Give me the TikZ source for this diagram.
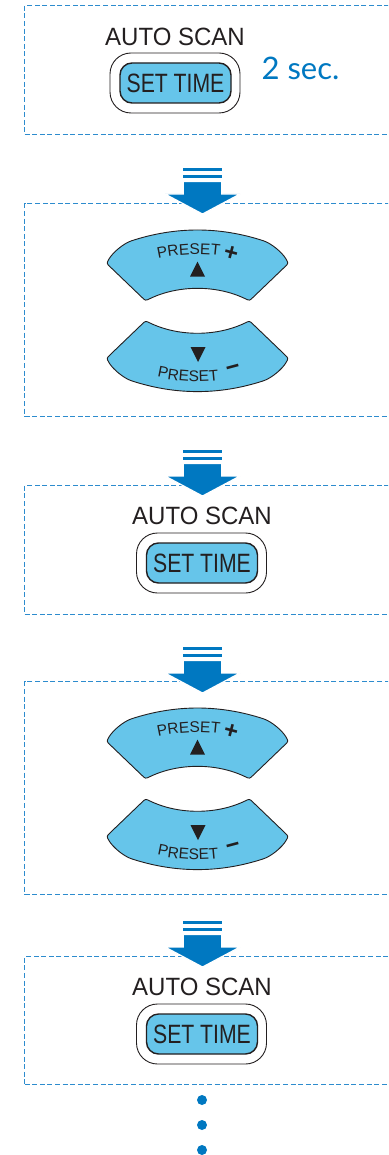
\documentclass[tikz,border=0pt]{standalone}
\usepackage{fontspec}
\setmainfont{Liberation Sans}
\newfontfamily\autofont[FakeStretch=0.96]{Liberation Sans}
\newfontfamily\settimefont[FakeStretch=0.8]{Liberation Sans}
\newfontfamily\secfont{Lato}
\definecolor{arrowblue}{RGB}{0,120,193}
\definecolor{btnblue}{RGB}{102,197,234}
\definecolor{dashblue}{RGB}{45,140,206}
\definecolor{ink}{RGB}{35,31,32}
\tikzset{
  dashbox/.style={draw=dashblue, line width=1.2pt, dash pattern=on 5pt off 2.6pt, anchor=north west, inner sep=0pt},
  txt/.style={inner sep=0pt, text=ink},
  autolabel/.style={txt, font=\autofont\fontsize{25}{30}\selectfont},
  outerbtn/.style={draw=ink, fill=white, line width=0.9pt, rounded corners=21pt, minimum width=130pt, minimum height=60pt, inner sep=0pt},
  innerbtn/.style={draw=ink, fill=btnblue, line width=1.4pt, rounded corners=12pt, minimum width=111pt, minimum height=40pt, inner sep=0pt, text=ink, font=\settimefont\fontsize{26.5}{30}\selectfont},
  dotnode/.style={circle, fill=arrowblue, inner sep=0pt, minimum size=10pt},
  signlabel/.style={txt, font=\fontsize{24}{26}\selectfont\bfseries},
  presetchar/.style={txt, anchor=base, font=\fontsize{15.5}{18}\selectfont},
  flowarrow/.pic={
    \fill[arrowblue] (-19.2,0) rectangle (19.2,3);
    \fill[arrowblue] (-19.2,7) rectangle (19.2,10);
    \filldraw[fill=arrowblue, draw=white, line width=1.2pt, line join=miter]
      (-19.2,13.5) -- (19.2,13.5) -- (19.2,26) -- (37.5,26) -- (0,46) -- (-37.5,26) -- (-19.2,26) -- cycle;
  },
  presetshape/.pic={
    \filldraw[fill=btnblue, draw=ink, line width=0.9pt]
      (-66,-22.5) .. controls (-22,-36.9) and (22,-36.9) .. (66,-22.5)
      .. controls (73.6,-20) and (84.5,-11.2) .. (88.5,-4.3)
      .. controls (91,0) .. (87.4,3.5)
      -- (55.6,34)
      .. controls (52,37.5) .. (47.5,35.3)
      .. controls (19,21.6) and (-19,21.6) .. (-47.5,35.3)
      .. controls (-52,37.5) .. (-55.6,34)
      -- (-87.4,3.5)
      .. controls (-91,0) .. (-88.5,-4.3)
      .. controls (-84.5,-11.2) and (-73.6,-20) .. (-66,-22.5) -- cycle;
  }
}
\begin{document}
\begin{tikzpicture}[x=1pt,y=-1pt]
\useasboundingbox (0,0) rectangle (388,1155);
\clip (0,0) rectangle (388,1155);

% dashed frames
\node[dashbox, minimum width=380pt, minimum height=129pt] (box1) at (24,5) {};
\node[dashbox, minimum width=380pt, minimum height=213pt] (box2) at (24,203) {};
\node[dashbox, minimum width=380pt, minimum height=129pt] (box3) at (24,485) {};
\node[dashbox, minimum width=380pt, minimum height=213pt] (box4) at (24,681) {};
\node[dashbox, minimum width=380pt, minimum height=128pt] (box5) at (24,956) {};

% box 1
\node[autolabel] (auto1) at (175,36.5) {AUTO SCAN};
\node[outerbtn] (outer1) at (175,83) {};
\node[innerbtn] (set1) at (175.5,83) {SET TIME};
\node[txt, text=arrowblue, font=\secfont\fontsize{31}{36}\selectfont] (sec) at (300.5,68.5) {2 sec.};

% boxes 3 and 5
\foreach \off/\nm in {0/3, 471/5} {
  \node[autolabel] (auto\nm) at (202,{515.5+\off}) {AUTO SCAN};
  \node[outerbtn] (outer\nm) at (201.5,{563+\off}) {};
  \node[innerbtn] (set\nm) at (202,{563+\off}) {SET TIME};
}

% boxes 2 and 4: preset buttons
\foreach \off/\nm in {0/2, 478/4} {
  \pic (up\nm) at (197.5,{263.3+\off}) {presetshape};
  \pic[yscale=-1] (down\nm) at (197.5,{358.3+\off}) {presetshape};
  % "PRESET" set along the upper (convex) arc
  \foreach \ch/\s [count=\i] in {P/-34.6, R/-23.9, E/-13.1, S/-2.8, E/7.6, T/17.5} {
    \pgfmathsetmacro{\ang}{\s*0.3183}
    \node[presetchar, rotate={0-\ang}] (pu\nm-\i)
      at ({197.5+180*sin(\ang)}, {434.5-180*cos(\ang)+\off}) {\ch};
  }
  % "PRESET" set along the lower (concave) arc
  \foreach \ch/\s [count=\i] in {P/-35.6, R/-24.9, E/-14.1, S/-3.8, E/6.6, T/16.5} {
    \pgfmathsetmacro{\ang}{\s*0.3183}
    \node[presetchar, rotate={\ang}] (pd\nm-\i)
      at ({197.5+180*sin(\ang)}, {201.5+180*cos(\ang)+\off}) {\ch};
  }
  \node[signlabel, rotate=-15] (plus\nm) at (231,{254+\off}) {+};
  \node[signlabel, rotate=15] (minus\nm) at (233.5,{370+\off}) {−};
  \fill[ink] (190,{276.7+\off}) -- (205,{276.7+\off}) -- (197.5,{261.7+\off}) -- cycle;
  \fill[ink] (190.5,{347+\off}) -- (205.5,{347+\off}) -- (198,{362+\off}) -- cycle;
}

% flow arrows
\pic (arrA) at (202.5,168) {flowarrow};
\pic (arrB) at (202.5,450) {flowarrow};
\pic (arrC) at (202.5,647) {flowarrow};
\pic (arrD) at (202.5,921) {flowarrow};

% continuation dots
\node[dotnode] (dot1) at (202,1100) {};
\node[dotnode] (dot2) at (202,1125) {};
\node[dotnode] (dot3) at (202,1150) {};
\end{tikzpicture}
\end{document}
